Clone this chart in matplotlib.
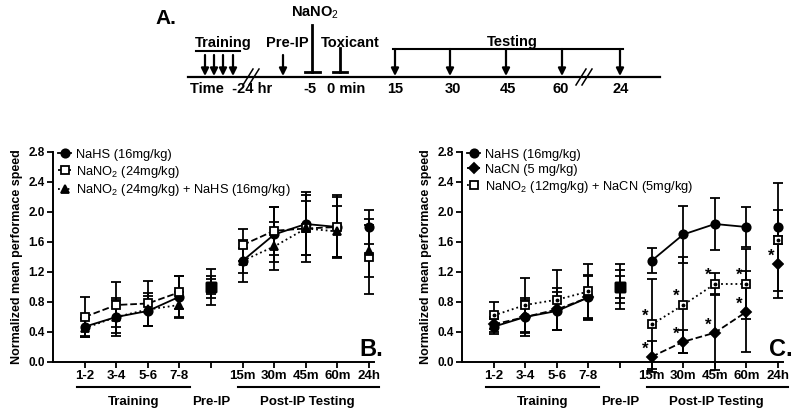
import numpy as np
import matplotlib
matplotlib.use("Agg")
import matplotlib.pyplot as plt

plt.rcParams['font.family'] = ['Liberation Sans', 'DejaVu Sans']
plt.rcParams['mathtext.fontset'] = 'custom'
plt.rcParams['mathtext.rm'] = 'Liberation Sans'
plt.rcParams['mathtext.bf'] = 'Liberation Sans:bold'

# x categories (Pre-IP has a tick but its label sits in the group row)
x_labels = ['1-2', '3-4', '5-6', '7-8', '', '15m', '30m', '45m', '60m', '24h']

# panel B
nahs_b = [0.47, 0.60, 0.68, 0.87, 1.00, 1.35, 1.70, 1.84, 1.80, 1.80]
nahs_b_err = [0.12, 0.25, 0.20, 0.27, 0.24, 0.28, 0.37, 0.42, 0.42, 0.23]
nano2_b = [0.60, 0.76, 0.78, 0.93, 1.00, 1.56, 1.75, 1.78, 1.80, 1.40]
nano2_b_err = [0.27, 0.30, 0.30, 0.22, 0.15, 0.21, 0.32, 0.45, 0.40, 0.50]
combo_b = [0.45, 0.60, 0.70, 0.76, 1.00, 1.35, 1.54, 1.78, 1.74, 1.48]
combo_b_err = [0.12, 0.22, 0.22, 0.17, 0.10, 0.17, 0.32, 0.36, 0.34, 0.35]

# panel C
nahs_c = [0.47, 0.60, 0.68, 0.86, 1.00, 1.35, 1.70, 1.84, 1.80, 1.80]
nahs_c_err = [0.10, 0.25, 0.25, 0.29, 0.30, 0.17, 0.38, 0.35, 0.27, 0.23]
nacn_c = [0.50, 0.60, 0.70, 0.86, 1.00, 0.07, 0.27, 0.39, 0.67, 1.31]
nacn_c_err = [0.10, 0.22, 0.28, 0.30, 0.15, 0.21, 0.15, 0.50, 0.54, 0.37]
combo_c = [0.62, 0.76, 0.83, 0.94, 1.00, 0.50, 0.76, 1.04, 1.04, 1.62]
combo_c_err = [0.18, 0.36, 0.40, 0.36, 0.22, 0.60, 0.64, 0.14, 0.47, 0.77]

# significance marks in C (index into x)
stars_combo_c = [5, 6, 7, 8]
stars_nacn_c = [5, 6, 7, 8, 9]

# timeline (panel A), schematic positions in pixels
train_arrows = [205, 214, 223, 233]
test_arrows = [395, 450, 506, 562, 620]
time_text = [('-5', 310), ('0 min', 346), ('15', 395), ('30', 453),
             ('45', 508), ('60', 561), ('24', 621)]

x = np.arange(1, 11)
train = slice(0, 4)
post = slice(5, 9)

fig = plt.figure(figsize=(8, 4.13), dpi=100)


def draw_series(ax, y, err, marker, ls, mfc, label, dot=False, ms=6):
    y = np.array(y)
    err = np.array(err)
    ax.errorbar(x, y, yerr=err, fmt='none', ecolor='k', elinewidth=1.3,
                capsize=3.5, capthick=1.3, zorder=2, clip_on=False)
    ax.plot(x[train], y[train], ls=ls, color='k', lw=1.3, zorder=3)
    ax.plot(x[post], y[post], ls=ls, color='k', lw=1.3, zorder=3)
    idx = [0, 1, 2, 3, 5, 6, 7, 8, 9]
    ax.plot(x[idx], y[idx], ls='none', marker=marker, ms=ms, mfc=mfc,
            mec='k', mew=1.3, color='k', zorder=4)
    if dot:
        ax.plot(x[idx], y[idx], ls='none', marker='o', ms=1.8, color='k', zorder=5)
    ax.plot(x[4], y[4], ls='none', marker='s', ms=7, color='k', zorder=4)
    # legend proxy
    h, = ax.plot([], [], ls=ls, marker=marker, ms=ms, mfc=mfc, mec='k',
                 mew=1.3, color='k', lw=1.3, label=label)
    return h


def style_axis(ax, letter):
    ax.set_xlim(0, 10.15)
    ax.set_ylim(0, 2.8)
    ax.set_yticks(np.arange(0, 2.81, 0.4))
    ax.set_yticklabels(['%.1f' % v for v in np.arange(0, 2.81, 0.4)],
                       fontsize=8.5, fontweight='bold')
    ax.set_xticks(x)
    ax.set_xticklabels(x_labels, fontsize=9.5, fontweight='bold')
    for s in ['top', 'right']:
        ax.spines[s].set_visible(False)
    for s in ['left', 'bottom']:
        ax.spines[s].set_linewidth(1.4)
    ax.tick_params(direction='out', length=4, width=1.3, pad=2)
    ax.set_ylabel('Normalized mean performace speed', fontsize=9,
                  fontweight='bold', labelpad=4)
    tr = ax.get_xaxis_transform()
    ax.plot([0.75, 4.35], [-0.12, -0.12], color='k', lw=1.5,
            transform=tr, clip_on=False)
    ax.plot([5.86, 10.3], [-0.12, -0.12], color='k', lw=1.5,
            transform=tr, clip_on=False)
    ax.text(2.55, -0.16, 'Training', transform=tr, ha='center', va='top',
            fontsize=9.5, fontweight='bold')
    ax.text(5.0, -0.16, 'Pre-IP', transform=tr, ha='center', va='top',
            fontsize=9.5, fontweight='bold')
    ax.text(8.05, -0.16, 'Post-IP Testing', transform=tr, ha='center',
            va='top', fontsize=9.5, fontweight='bold')
    ax.text(1.03, 0.03, letter, transform=ax.transAxes, ha='right',
            va='baseline', fontsize=17, fontweight='bold')


# ---- panel B
axB = fig.add_axes([0.06625, 0.1235, 0.401, 0.5085])
h1 = draw_series(axB, nahs_b, nahs_b_err, 'o', '-', 'k', 'NaHS (16mg/kg)')
h2 = draw_series(axB, nano2_b, nano2_b_err, 's', '--', 'white',
                 r'NaNO$_2$ (24mg/kg)')
h3 = draw_series(axB, combo_b, combo_b_err, '^', ':', 'k',
                 r'NaNO$_2$ (24mg/kg) + NaHS (16mg/kg)')
style_axis(axB, 'B.')
axB.legend(handles=[h1, h2, h3], loc='upper left', bbox_to_anchor=(0.0, 1.04),
           frameon=False, fontsize=9.3, handlelength=1.0, handletextpad=0.4,
           labelspacing=0.22, borderaxespad=0, numpoints=1)

# ---- panel C
axC = fig.add_axes([0.5775, 0.1235, 0.401, 0.5085])
g1 = draw_series(axC, nahs_c, nahs_c_err, 'o', '-', 'k', 'NaHS (16mg/kg)')
g2 = draw_series(axC, nacn_c, nacn_c_err, 'D', '--', 'k', 'NaCN (5 mg/kg)', ms=5)
g3 = draw_series(axC, combo_c, combo_c_err, 's', ':', 'white',
                 r'NaNO$_2$ (12mg/kg) + NaCN (5mg/kg)', dot=True)
style_axis(axC, 'C.')
axC.legend(handles=[g1, g2, g3], loc='upper left', bbox_to_anchor=(0.0, 1.04),
           frameon=False, fontsize=9.3, handlelength=1.0, handletextpad=0.4,
           labelspacing=0.22, borderaxespad=0, numpoints=1)
for i in stars_combo_c:
    axC.text(x[i] - 0.22, combo_c[i] + 0.11, '*', ha='center', va='center',
             fontsize=12, fontweight='bold')
for i in stars_nacn_c:
    axC.text(x[i] - 0.22, nacn_c[i] + 0.1, '*', ha='center', va='center',
             fontsize=12, fontweight='bold')

# ---- panel A: timeline
axA = fig.add_axes([0, 0, 1, 1], zorder=-1)
axA.set_xlim(0, 800)
axA.set_ylim(413, 0)
axA.axis('off')
axA.patch.set_alpha(0)
lw = 1.6
axA.plot([188, 660], [77, 77], color='k', lw=lw)
for bx in [248, 581]:
    for d in [0, 6]:
        axA.plot([bx + d - 5, bx + d + 5], [85, 69], color='k', lw=1.1)
arrow = dict(arrowstyle='-|>', color='k', lw=1.6, mutation_scale=11,
             shrinkA=0, shrinkB=0)
for ax_ in train_arrows:
    axA.annotate('', xy=(ax_, 76), xytext=(ax_, 55), arrowprops=arrow)
axA.annotate('', xy=(283, 76), xytext=(283, 55), arrowprops=arrow)
for ax_ in test_arrows:
    axA.annotate('', xy=(ax_, 76), xytext=(ax_, 49), arrowprops=arrow)
# T-bars
axA.plot([312, 312], [25, 72], color='k', lw=2)
axA.plot([305, 320], [72, 72], color='k', lw=2)
axA.plot([340, 340], [48, 72], color='k', lw=2)
axA.plot([333, 347], [72, 72], color='k', lw=2)
axA.plot([393, 623], [49, 49], color='k', lw=1.5)
axA.plot([196, 240], [51, 51], color='k', lw=1.5)

fs = 10.5
axA.text(155, 18, 'A.', fontsize=15, fontweight='bold', ha='left', va='center')
axA.text(315, 13, r'NaNO$_2$', fontsize=fs, fontweight='bold', ha='center', va='center')
axA.text(195, 43, 'Training', fontsize=fs, fontweight='bold', ha='left', va='center')
axA.text(287, 43, 'Pre-IP', fontsize=fs, fontweight='bold', ha='center', va='center')
axA.text(350, 43, 'Toxicant', fontsize=fs, fontweight='bold', ha='center', va='center')
axA.text(512, 42, 'Testing', fontsize=fs, fontweight='bold', ha='center', va='center')
axA.text(190, 89, 'Time  -24 hr', fontsize=fs, fontweight='bold', ha='left', va='center')
for t, tx in time_text:
    axA.text(tx, 89, t, fontsize=fs, fontweight='bold', ha='center', va='center')

fig.savefig('out.png', dpi=100)
